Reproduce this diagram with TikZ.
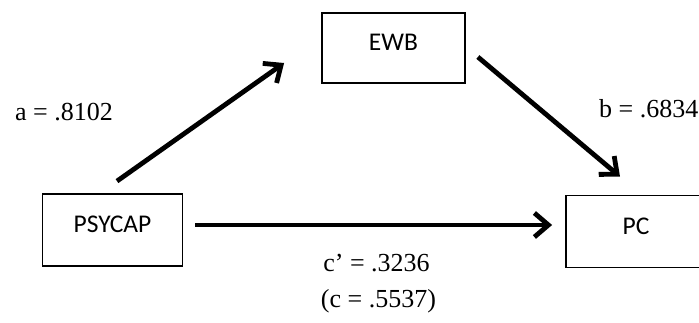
\documentclass[tikz,border=0pt]{standalone}
\usepackage{fontspec}
\setmainfont{Liberation Serif}
\newfontfamily\calib{Carlito}
\usetikzlibrary{arrows.meta}
\begin{document}
\begin{tikzpicture}[x=1pt,y=-1pt,
  boxnode/.style={draw, line width=1.8pt, minimum width=140pt, minimum height=72pt,
    inner sep=0pt, font=\calib\fontsize{25.5}{28}\selectfont, text height=17pt, text depth=12pt},
  lbl/.style={font=\fontsize{26}{28}\selectfont, inner sep=0pt, anchor=base},
  arr/.style={line width=4.8pt, -{Straight Barb[length=14pt,width=24pt]}}]
\useasboundingbox (0,0) rectangle (699,322);
\clip (0,0) rectangle (699,322);
\node[boxnode] (psycap) at (112.5,230) {PSYCAP};
\node[boxnode, minimum width=143pt, minimum height=70pt] (ewb) at (393.5,48) {EWB};
\node[boxnode] (pc) at (636,231.5) {PC};
\draw[arr] ([xshift=4.5pt,yshift=12pt]psycap.north) -- ([xshift=-37pt,yshift=-15pt]ewb.west);
\draw[arr] ([xshift=12pt,yshift=-9pt]ewb.east) -- ([xshift=-16pt,yshift=18pt]pc.north);
\draw[arr] ([xshift=12pt,yshift=5pt]psycap.east) -- ([xshift=-13pt,yshift=6.5pt]pc.west);
\node[lbl] (la) at (64,120) {a = .8102};
\node[lbl, anchor=base west] (lb) at (599,117) {b = .6834};
\node[lbl] (lc) at (376.5,271.5) {c’ = .3236};
\node[lbl] (lct) at (378.5,307.5) {(c = .5537)};
\end{tikzpicture}
\end{document}
